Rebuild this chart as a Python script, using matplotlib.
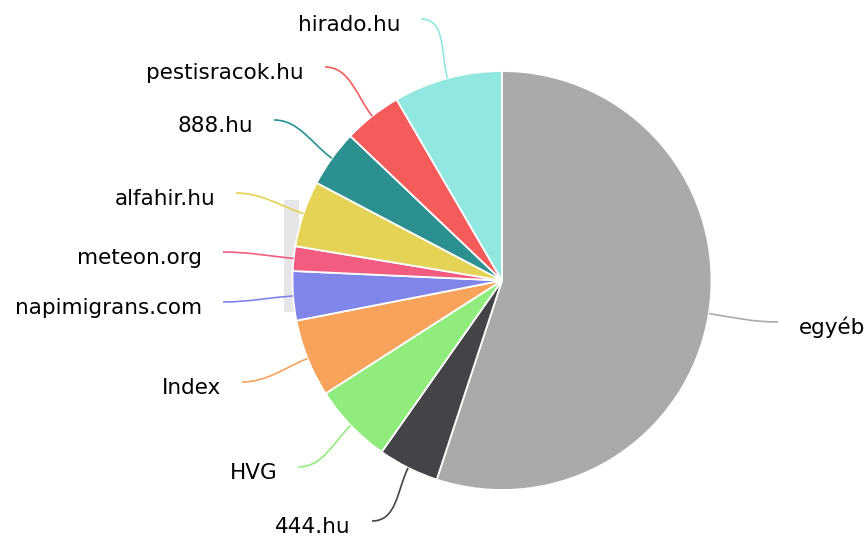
import numpy as np
import matplotlib
matplotlib.use("Agg")
import matplotlib.pyplot as plt
from matplotlib.path import Path
from matplotlib.patches import PathPatch, Rectangle

# -------------------------------
# Data (share of articles, %)
# -------------------------------
sources = ["egyéb", "444.hu", "HVG", "Index", "napimigrans.com",
           "meteon.org", "alfahir.hu", "888.hu", "pestisracok.hu", "hirado.hu"]
shares = [55.1, 4.7, 6.2, 6.0, 3.8, 1.9, 5.1, 4.4, 4.5, 8.4]
colors = ["#aaaaaa", "#434348", "#90ed7d", "#f7a35c", "#8085e9",
          "#f15c80", "#e4d354", "#2b908f", "#f45b5b", "#91e8e1"]

# label connector end points (pixel coords, y down)
label_pos = [(778, 322), (372, 521), (298, 467), (242, 382), (223, 302),
             (223, 252), (236, 193), (274, 120), (325, 67), (421, 19)]

W, H = 866, 536
fig = plt.figure(figsize=(W / 100, H / 100), dpi=100)
ax = fig.add_axes([0, 0, 1, 1])

cx, cy, r = 502, H - 280.5, 209.5

# faint leftover box behind the pie
ax.add_patch(Rectangle((284, H - 312), 15, 112, color="#e6e6e8", zorder=0, lw=0))

wedges, _ = ax.pie(shares, colors=colors, startangle=90, counterclock=False,
                   radius=r, center=(cx, cy),
                   wedgeprops=dict(edgecolor="white", linewidth=1.3))

# -------------------------------
# Connectors + labels
# -------------------------------
for w, name, col, (lx, ly) in zip(wedges, sources, colors, label_pos):
    ang = np.deg2rad((w.theta1 + w.theta2) / 2)
    ux, uy = np.cos(ang), np.sin(ang)
    sx, sy = cx + r * ux, cy + r * uy
    ex, ey = lx, H - ly
    side = 1 if ex > cx else -1
    verts = [(sx, sy), (sx + 25 * ux, sy + 25 * uy), (ex - side * 25, ey), (ex, ey)]
    path = Path(verts, [Path.MOVETO, Path.CURVE4, Path.CURVE4, Path.CURVE4])
    ax.add_patch(PathPatch(path, fc="none", ec=col, lw=1.2, zorder=3))
    ax.text(ex + side * 21, ey - 12, name, ha="left" if side > 0 else "right",
            va="baseline", fontsize=15.5, color="#000000")

ax.set_xlim(0, W)
ax.set_ylim(0, H)
ax.set_aspect("equal")
ax.axis("off")

plt.savefig("out.png", dpi=100)
plt.close()
